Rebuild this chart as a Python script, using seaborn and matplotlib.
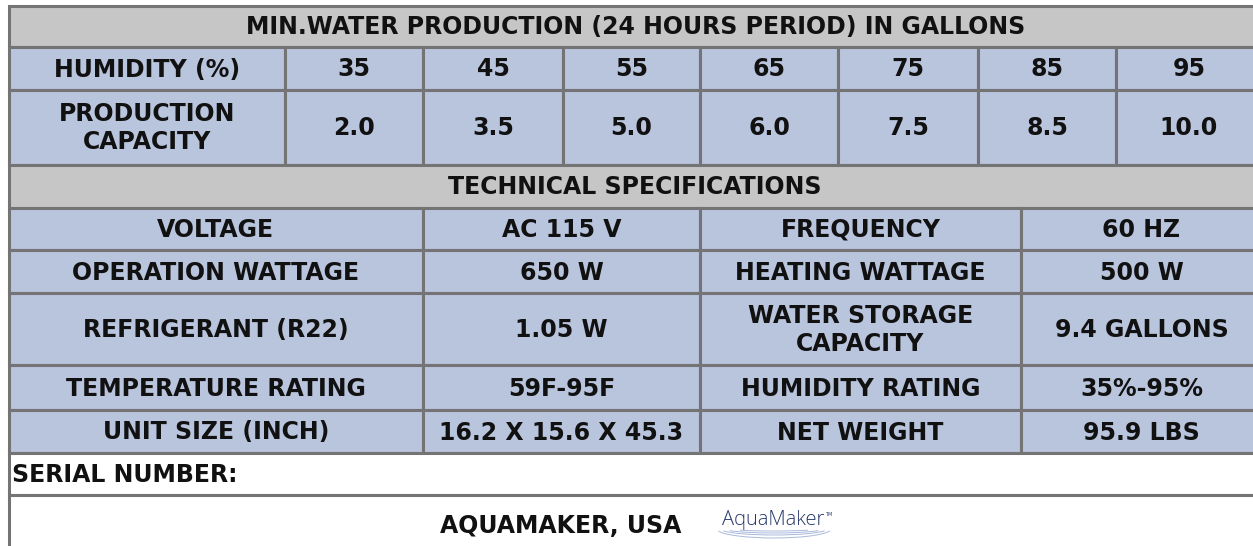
import matplotlib
matplotlib.use("Agg")
import matplotlib.pyplot as plt
from matplotlib.patches import Rectangle, Arc
import seaborn as sns

## Données du tableau

title_prod = "MIN.WATER PRODUCTION (24 HOURS PERIOD) IN GALLONS"
title_spec = "TECHNICAL SPECIFICATIONS"

humidity = [35, 45, 55, 65, 75, 85, 95]
capacity = ["2.0", "3.5", "5.0", "6.0", "7.5", "8.5", "10.0"]

spec_labels_left = ["VOLTAGE", "OPERATION WATTAGE", "REFRIGERANT (R22)",
                    "TEMPERATURE RATING", "UNIT SIZE (INCH)"]
spec_values_left = ["AC 115 V", "650 W", "1.05 W", "59F-95F", "16.2 X 15.6 X 45.3"]
spec_labels_right = ["FREQUENCY", "HEATING WATTAGE", "WATER STORAGE\nCAPACITY",
                     "HUMIDITY RATING", "NET WEIGHT"]
spec_values_right = ["60 HZ", "500 W", "9.4 GALLONS", "35%-95%", "95.9 LBS"]

serial_label = "SERIAL NUMBER:"
footer = "AQUAMAKER, USA"
brand = "AquaMaker"

## Mise en page (pixels)

W, H = 1253, 546
x_left, x_right = 8.5, 1262
x_prod = [x_left, 285, 423, 563, 700, 838, 978, 1116, x_right]
x_spec = [x_left, 423, 700, 1021, x_right]
y_rows = [5.5, 47, 90, 164.5, 207.5, 250, 293, 365, 410, 453, 494.5, 560]

sns.set_theme(style="white")
plt.rcParams["font.family"] = ["DejaVu Sans"]

grey = "#c6c6c6"
blue = "#b9c4dd"
edge = "#747474"
FS = 17

fig = plt.figure(figsize=(W / 100, H / 100), dpi=100)
ax = fig.add_axes([0, 0, 1, 1])
ax.set_xlim(0, W)
ax.set_ylim(H, 0)
ax.axis("off")


def cell(x0, x1, y0, y1, fill, text="", ha="center"):
    ax.add_patch(Rectangle((x0, y0), x1 - x0, y1 - y0, facecolor=fill,
                           edgecolor=edge, lw=2.2, zorder=1))
    if text:
        tx = (x0 + x1) / 2 if ha == "center" else x0 + 4
        ax.text(tx, (y0 + y1) / 2 + 1, text, ha=ha, va="center", fontsize=FS,
                fontweight="bold", color="#111111", linespacing=1.2, zorder=3)


# production
cell(x_left, x_right, y_rows[0], y_rows[1], grey, title_prod)
cell(x_prod[0], x_prod[1], y_rows[1], y_rows[2], blue, "HUMIDITY (%)")
cell(x_prod[0], x_prod[1], y_rows[2], y_rows[3], blue, "PRODUCTION\nCAPACITY")
for i, (h, c) in enumerate(zip(humidity, capacity)):
    cell(x_prod[i + 1], x_prod[i + 2], y_rows[1], y_rows[2], blue, str(h))
    cell(x_prod[i + 1], x_prod[i + 2], y_rows[2], y_rows[3], blue, c)

# spécifications
cell(x_left, x_right, y_rows[3], y_rows[4], grey, title_spec)
for r in range(len(spec_labels_left)):
    y0, y1 = y_rows[4 + r], y_rows[5 + r]
    cell(x_spec[0], x_spec[1], y0, y1, blue, spec_labels_left[r])
    cell(x_spec[1], x_spec[2], y0, y1, blue, spec_values_left[r])
    cell(x_spec[2], x_spec[3], y0, y1, blue, spec_labels_right[r])
    cell(x_spec[3], x_spec[4], y0, y1, blue, spec_values_right[r])

# bas du tableau
cell(x_left, x_right, y_rows[9], y_rows[10], "white", serial_label, ha="left")
cell(x_left, x_right, y_rows[10], y_rows[11], "white")
ax.text(561, 526, footer, ha="center", va="center", fontsize=FS,
        fontweight="bold", color="#111111", zorder=3)

# logo
ax.text(722, 525, brand, ha="left", va="baseline", fontsize=14.5,
        family=["Open Sans", "DejaVu Sans"], fontweight="light",
        color="#27386a", zorder=3)
ax.text(825, 515, "TM", ha="left", va="center", fontsize=3.5,
        color="#27386a", zorder=3)
for w, hh in [(84, 4), (96, 8), (106, 12), (114, 18)]:
    ax.add_patch(Arc((774, 529), w, hh, theta1=2, theta2=178,
                     color="#a9b9dc", lw=0.7, zorder=3))

fig.savefig("out.png", dpi=100)
